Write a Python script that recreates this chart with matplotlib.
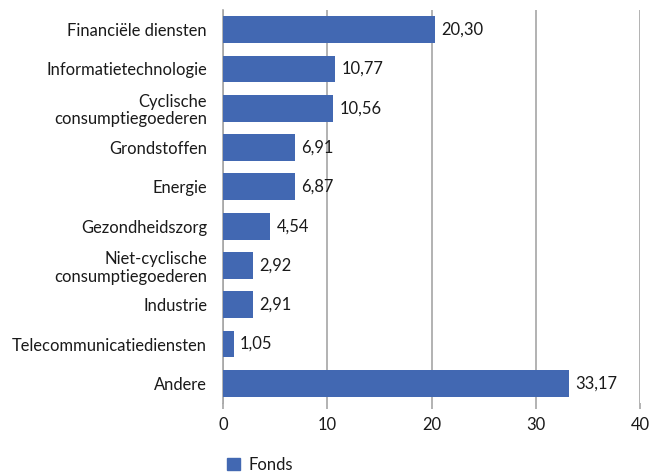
import matplotlib
matplotlib.use("Agg")
import matplotlib.pyplot as plt
from matplotlib.patches import Patch

categories = ["Financiële diensten", "Informatietechnologie", "Cyclische\nconsumptiegoederen",
              "Grondstoffen", "Energie", "Gezondheidszorg", "Niet-cyclische\nconsumptiegoederen",
              "Industrie", "Telecommunicatiediensten", "Andere"]
values = [20.30, 10.77, 10.56, 6.91, 6.87, 4.54, 2.92, 2.91, 1.05, 33.17]
labels = ["20,30", "10,77", "10,56", "6,91", "6,87", "4,54", "2,92", "2,91", "1,05", "33,17"]
xticks = [0, 10, 20, 30, 40]
series_name = "Fonds"

plt.rcParams['font.family'] = ['Lato', 'DejaVu Sans']
color = '#4268b2'
textc = '#1a1a1a'
gridc = '#a6a6a6'
fs = 11.9

fig = plt.figure(figsize=(6.51, 4.75), dpi=100)
ax = fig.add_axes([223/651, 1-403/475, (640-223)/651, (403-10)/475])

y = list(range(len(categories)))
ax.barh(y, values, height=0.68, color=color, zorder=3)
for yi, v, l in zip(y, values, labels):
    ax.text(v + 0.6, yi, l, va='center', ha='left', fontsize=fs, color=textc)

ax.set_yticks(y)
ax.set_yticklabels(categories, fontsize=fs, color=textc, linespacing=1.12)
ax.set_ylim(len(categories) - 0.5, -0.5)
ax.set_xlim(0, 40)
ax.set_xticks(xticks)
ax.set_xticklabels([str(t) for t in xticks], fontsize=fs, color=textc)
ax.grid(axis='x', color=gridc, linewidth=1.2, zorder=0)
for s in ['top', 'right', 'bottom']:
    ax.spines[s].set_visible(False)
ax.spines['left'].set_color(gridc)
ax.spines['left'].set_linewidth(1.2)
ax.tick_params(axis='y', length=0, pad=11.5)
ax.tick_params(axis='x', length=4, color=gridc, width=1.2, pad=6)

ax.legend(handles=[Patch(color=color, label=series_name)], loc='upper left',
          bbox_to_anchor=(-0.025, -0.1), frameon=False, fontsize=fs,
          handlelength=0.75, handleheight=0.75, handletextpad=0.5, labelcolor=textc)

fig.savefig("out.png", dpi=100)
